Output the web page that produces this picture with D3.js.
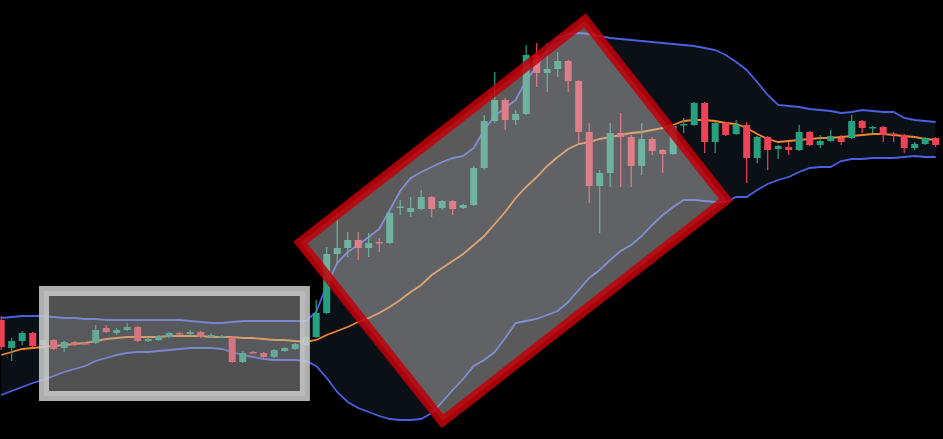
<!DOCTYPE html>
<html>
<head>
<meta charset="utf-8">
<script src="https://cdn.jsdelivr.net/npm/d3@7"></script>
<style>
  html, body { margin: 0; padding: 0; background: #000; overflow: hidden; }
  svg { display: block; }
</style>
</head>
<body>
<script>
// ---- data (price units) ----
const openP = [32.0,29.2,29.9,30.7,29.5,30.0,29.2,29.8,29.7,29.7,
  31.2,30.7,31.0,31.3,29.9,30.0,30.3,30.7,30.6,30.8,
  30.3,30.3,30.3,27.8,28.8,28.7,28.3,28.9,29.1,29.5,
  30.3,32.7,38.6,39.2,40.0,39.2,39.8,39.7,43.3,42.8,
  43.1,44.3,43.2,43.9,43.2,43.5,47.2,51.9,54.0,52.0,
  52.6,58.5,56.7,57.1,57.9,55.9,50.8,45.4,46.7,50.7,
  50.3,47.4,50.1,49.0,48.6,51.55,51.5,53.7,49.8,51.7,
  50.6,51.5,48.2,50.3,49.1,49.3,49.0,50.8,49.5,49.9,
  50.2,50.2,51.9,51.15,51.3,50.65,50.5,49.2,49.6,50.2];
const highP = [32.4,30.2,30.9,30.8,30.1,30.1,29.9,29.9,29.8,31.5,
  31.5,31.2,31.7,31.4,30.2,30.5,30.8,30.8,31.0,30.9,
  30.7,30.5,30.4,28.9,28.9,28.8,29.1,29.3,29.7,30.4,
  34.0,39.3,42.7,40.8,40.8,40.7,40.2,42.9,44.0,44.3,
  45.0,44.4,44.0,44.0,43.6,47.4,52.5,56.8,54.2,53.0,
  59.5,59.7,59.7,58.8,58.0,56.0,51.7,47.0,51.7,52.7,
  50.5,51.7,50.3,49.1,51.5,52.2,53.8,53.8,51.8,51.8,
  52.0,51.8,50.4,50.4,49.5,49.8,51.5,50.9,50.5,51.0,
  50.5,52.5,52.0,51.4,51.4,50.8,50.6,49.8,50.3,50.3];
const lowP = [29.0,27.9,29.5,29.3,29.4,29.0,28.8,29.4,29.5,29.6,
  30.7,30.5,30.9,29.8,29.8,29.9,30.2,30.5,30.5,30.2,
  30.2,30.2,27.7,27.7,28.7,28.2,28.2,28.8,29.0,29.4,
  30.2,32.6,37.7,38.3,38.0,38.3,38.8,39.6,42.5,42.3,
  43.0,42.3,43.0,42.5,43.1,43.4,47.0,51.7,51.0,51.5,
  52.5,55.3,54.8,56.3,54.8,49.7,43.7,40.7,45.3,45.3,
  45.3,46.5,48.5,46.7,48.5,50.7,51.4,48.7,48.7,50.4,
  50.5,45.7,47.7,47.0,48.1,48.5,48.9,49.4,49.2,49.8,
  49.5,50.1,50.7,50.7,49.8,49.8,48.7,49.0,49.5,49.3];
const closeP = [29.3,29.9,30.7,29.4,30.0,29.1,29.8,29.5,29.65,31.0,
  30.8,31.0,31.3,29.9,30.1,30.4,30.7,30.55,30.8,30.3,
  30.5,30.4,27.8,28.7,28.75,28.3,29.0,29.2,29.6,30.3,
  32.7,38.6,39.2,40.0,39.2,39.7,39.75,42.7,43.35,43.2,
  44.3,43.1,43.9,43.1,43.5,47.2,51.9,54.0,52.0,52.6,
  58.5,56.7,57.1,57.9,55.9,50.8,45.4,46.7,50.7,50.3,
  47.4,50.1,48.9,48.6,51.4,51.6,53.7,49.8,51.7,50.5,
  51.5,48.2,50.3,49.0,49.4,49.0,50.8,49.5,49.9,50.4,
  49.8,51.9,51.2,51.3,50.5,50.6,49.2,49.6,50.2,49.5];
const upperBand = [32.2,32.3,32.4,32.4,32.4,32.3,32.2,32.2,32.1,32.1,
  32.0,32.0,32.0,32.0,32.0,32.0,32.0,32.0,31.9,31.8,
  31.7,31.7,31.8,31.9,31.9,31.9,31.9,31.9,31.9,31.9,
  32.8,35.5,37.7,38.8,39.5,40.3,41.1,43.0,44.9,46.2,
  46.8,47.3,47.8,48.2,48.4,49.2,51.0,52.4,53.2,54.0,
  56.0,57.3,59.0,60.2,60.6,60.7,60.6,60.4,60.2,60.1,
  60.0,59.9,59.8,59.7,59.6,59.5,59.4,59.2,59.0,58.5,
  57.8,57.0,55.8,54.5,53.5,53.4,53.3,53.1,53.0,52.9,
  52.7,52.8,53.0,52.9,52.8,52.8,52.2,52.0,51.9,51.8];
const middleBand = [28.5,28.8,29.1,29.2,29.3,29.4,29.5,29.6,29.7,29.9,
  30.1,30.2,30.3,30.3,30.3,30.3,30.4,30.4,30.4,30.4,
  30.3,30.3,30.3,30.2,30.2,30.1,30.0,30.0,29.9,29.8,
  30.0,30.5,30.9,31.3,31.8,32.2,32.7,33.3,34.0,34.8,
  35.5,36.5,37.2,37.9,38.6,39.5,40.4,41.6,42.8,44.2,
  45.3,46.3,47.4,48.3,49.1,49.6,49.8,50.1,50.3,50.5,
  50.7,50.8,51.0,51.2,51.5,51.9,52.0,52.0,51.9,51.7,
  51.6,51.2,50.6,50.1,49.8,49.9,50.0,50.1,50.2,50.2,
  50.3,50.4,50.5,50.6,50.6,50.5,50.4,50.3,50.1,50.0];
const lowerBand = [24.5,24.9,25.3,25.7,26.0,26.4,26.8,27.1,27.4,27.9,
  28.2,28.5,28.7,28.8,28.8,28.9,29.0,29.1,29.2,29.2,
  29.2,29.1,28.8,28.5,28.3,28.1,28.0,28.0,28.0,27.9,
  27.4,26.2,24.8,23.8,23.2,22.8,22.4,22.1,22.0,22.0,
  22.1,22.7,23.8,25.0,26.1,27.4,28.0,28.8,30.2,31.7,
  31.9,32.1,32.5,32.9,33.8,35.0,36.2,37.0,38.0,38.9,
  39.5,40.4,41.5,42.5,43.3,44.0,44.0,43.9,43.8,43.8,
  44.3,44.3,45.0,45.6,46.0,46.3,46.8,47.2,47.3,47.3,
  47.9,48.1,48.1,48.2,48.2,48.2,48.3,48.4,48.3,48.3];
// annotation boxes (in bar-index / price units)
const greyBoxIdx = [3.6, 29.4];
const greyBoxPrice = [23.9, 35.4];
const redBoxIdx = [27.82, 55.67, 69.70, 41.95];
const redBoxPrice = [39.83, 62.67, 43.93, 21.17];

// ---- drawing ----
const W = 943, H = 439;
const n = openP.length;
const idx = d3.range(n);
const x = d3.scaleLinear().domain([0, n - 1]).range([1.2, 935.7]);
const y = d3.scaleLinear().domain([20, 64]).range([440, 0]);

const svg = d3.select("body").append("svg").attr("width", W).attr("height", H);
svg.append("rect").attr("width", W).attr("height", H).attr("fill", "#000");

// band fill
const area = d3.area().x(i => x(i)).y0(i => y(lowerBand[i])).y1(i => y(upperBand[i]));
svg.append("path").datum(idx).attr("d", area).attr("fill", "#0b1017");

const line = arr => d3.line().x(i => x(i)).y(i => y(arr[i]));
svg.append("path").datum(idx).attr("d", line(upperBand)).attr("fill", "none")
  .attr("stroke", "#4a61e4").attr("stroke-width", 1.8);
svg.append("path").datum(idx).attr("d", line(lowerBand)).attr("fill", "none")
  .attr("stroke", "#4a61e4").attr("stroke-width", 1.8);
svg.append("path").datum(idx).attr("d", line(middleBand)).attr("fill", "none")
  .attr("stroke", "#f0872e").attr("stroke-width", 1.8);

// candles
const up = "#27a07e", down = "#ee4257";
const g = svg.append("g");
const c = g.selectAll("g.c").data(idx).join("g");
c.append("line")
  .attr("x1", i => x(i)).attr("x2", i => x(i))
  .attr("y1", i => y(highP[i])).attr("y2", i => y(lowP[i]))
  .attr("stroke", i => closeP[i] >= openP[i] ? up : down).attr("stroke-width", 1.2);
c.append("rect")
  .attr("x", i => x(i) - 3.5).attr("width", 7)
  .attr("y", i => y(Math.max(openP[i], closeP[i])))
  .attr("height", i => Math.max(1.5, Math.abs(y(openP[i]) - y(closeP[i]))))
  .attr("fill", i => closeP[i] >= openP[i] ? up : down);

// grey box
const gb = { x0: x(greyBoxIdx[0]), x1: x(greyBoxIdx[1]), y0: y(greyBoxPrice[1]), y1: y(greyBoxPrice[0]) };
const bw = 10;
svg.append("rect")
  .attr("x", gb.x0 + bw / 2).attr("y", gb.y0 + bw / 2)
  .attr("width", gb.x1 - gb.x0 - bw).attr("height", gb.y1 - gb.y0 - bw)
  .attr("fill", "rgba(180,180,180,0.45)")
  .attr("stroke", "rgba(205,205,205,0.85)").attr("stroke-width", bw);

// red rotated box
const pts = redBoxIdx.map((v, k) => [x(v), y(redBoxPrice[k])]);
const inset = pts.map((p, k) => {
  const a = pts[(k + 3) % 4], b = pts[(k + 1) % 4];
  const ua = [a[0] - p[0], a[1] - p[1]], ub = [b[0] - p[0], b[1] - p[1]];
  const la = Math.hypot(ua[0], ua[1]), lb = Math.hypot(ub[0], ub[1]);
  return [p[0] + 5 * ua[0] / la + 5 * ub[0] / lb, p[1] + 5 * ua[1] / la + 5 * ub[1] / lb];
});
svg.append("path")
  .attr("d", d3.line()(inset) + "Z")
  .attr("fill", "rgba(200,200,200,0.45)")
  .attr("stroke", "rgba(195,0,10,0.85)").attr("stroke-width", 10)
  .attr("stroke-linejoin", "miter");
</script>
</body>
</html>
